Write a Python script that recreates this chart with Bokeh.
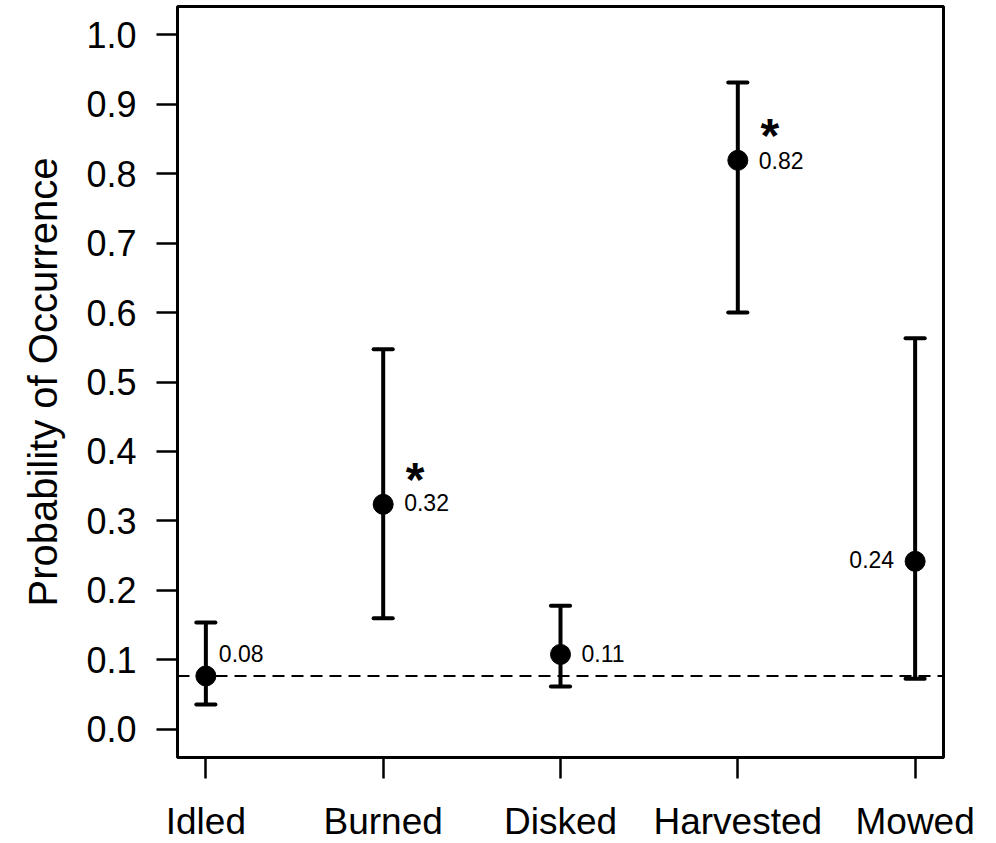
from bokeh.plotting import figure
from bokeh.models import Range1d, FixedTicker, ColumnDataSource, Span
from bokeh.core.properties import value
from bokeh.embed import file_html
from bokeh.resources import INLINE

# ---- data ----
categories = ["Idled", "Burned", "Disked", "Harvested", "Mowed"]
estimate = [0.077, 0.324, 0.108, 0.819, 0.242]
lower = [0.036, 0.160, 0.062, 0.600, 0.073]
upper = [0.154, 0.547, 0.178, 0.931, 0.563]
labels = ["0.08", "0.32", "0.11", "0.82", "0.24"]
label_y = [0.109, 0.327, 0.110, 0.819, 0.244]
significant = [False, True, False, True, False]
baseline = 0.077
y_ticks = [0.0, 0.1, 0.2, 0.3, 0.4, 0.5, 0.6, 0.7, 0.8, 0.9, 1.0]

FONT = "Liberation Sans"
xs = [i + 1 for i in range(len(categories))]

p = figure(frame_width=766, frame_height=751,
           x_range=Range1d(0.84, 5.16), y_range=Range1d(-0.0403, 1.0403),
           output_backend="svg", toolbar_location=None,
           min_border_left=177, min_border_right=53,
           min_border_top=6, min_border_bottom=86,
           background_fill_color="white", border_fill_color="white")
p.grid.visible = False
p.outline_line_color = "black"
p.outline_line_width = 3

# axes
p.xaxis.ticker = FixedTicker(ticks=xs)
p.xaxis.major_label_overrides = {x: c for x, c in zip(xs, categories)}
p.yaxis.ticker = FixedTicker(ticks=y_ticks)
p.yaxis.major_label_overrides = {t: f"{t:.1f}" for t in y_ticks}
for ax in (p.xaxis, p.yaxis):
    ax.axis_line_color = None
    ax.major_tick_in = 0
    ax.major_tick_out = 21
    ax.major_tick_line_color = "black"
    ax.major_tick_line_width = 2.5
    ax.minor_tick_line_color = None
    ax.major_label_text_font = FONT
    ax.major_label_text_color = "black"
p.xaxis.major_label_text_font_size = "37px"
p.yaxis.major_label_text_font_size = "36px"
p.xaxis.major_label_standoff = 22
p.yaxis.major_label_standoff = 20
p.yaxis.major_label_orientation = "horizontal"
p.yaxis.axis_label = "Probability of Occurrence"
p.yaxis.axis_label_text_font = FONT
p.yaxis.axis_label_text_font_size = "40px"
p.yaxis.axis_label_text_font_style = "normal"
p.yaxis.axis_label_text_color = "black"
p.yaxis.axis_label_standoff = 18

# reference line
p.add_layout(Span(location=baseline, dimension="width", line_color="black",
                  line_width=2, line_dash="12 7"))

src = ColumnDataSource(dict(x=xs, est=estimate, lo=lower, hi=upper,
                            xl=[x - 0.054 for x in xs], xr=[x + 0.054 for x in xs]))
p.segment(x0="x", y0="lo", x1="x", y1="hi", source=src,
          line_color="black", line_width=4)
p.segment(x0="xl", y0="hi", x1="xr", y1="hi", source=src,
          line_color="black", line_width=4, line_cap="round")
p.segment(x0="xl", y0="lo", x1="xr", y1="lo", source=src,
          line_color="black", line_width=4, line_cap="round")
p.scatter(x="x", y="est", source=src, size=20, marker="circle",
          fill_color="black", line_color="black")

# value labels
for i, (x, ly, lab) in enumerate(zip(xs, label_y, labels)):
    right_side = i != len(xs) - 1
    p.text(x=[x], y=[ly], text=[lab], text_font=value(FONT),
           text_font_size="23px", text_color="black",
           text_align="left" if right_side else "right",
           text_baseline="middle",
           x_offset=(13 if i == 0 else 21) if right_side else -21)

# significance asterisks
sx = [x for x, s in zip(xs, significant) if s]
sy = [e for e, s in zip(estimate, significant) if s]
p.text(x=sx, y=sy, text=["*"] * len(sx), text_font=value(FONT),
       text_font_size="48px", text_font_style="bold", text_color="black",
       text_align="center", text_baseline="middle",
       x_offset=32, y_offset=-25)

open("out.html", "w").write(file_html(p, INLINE))
